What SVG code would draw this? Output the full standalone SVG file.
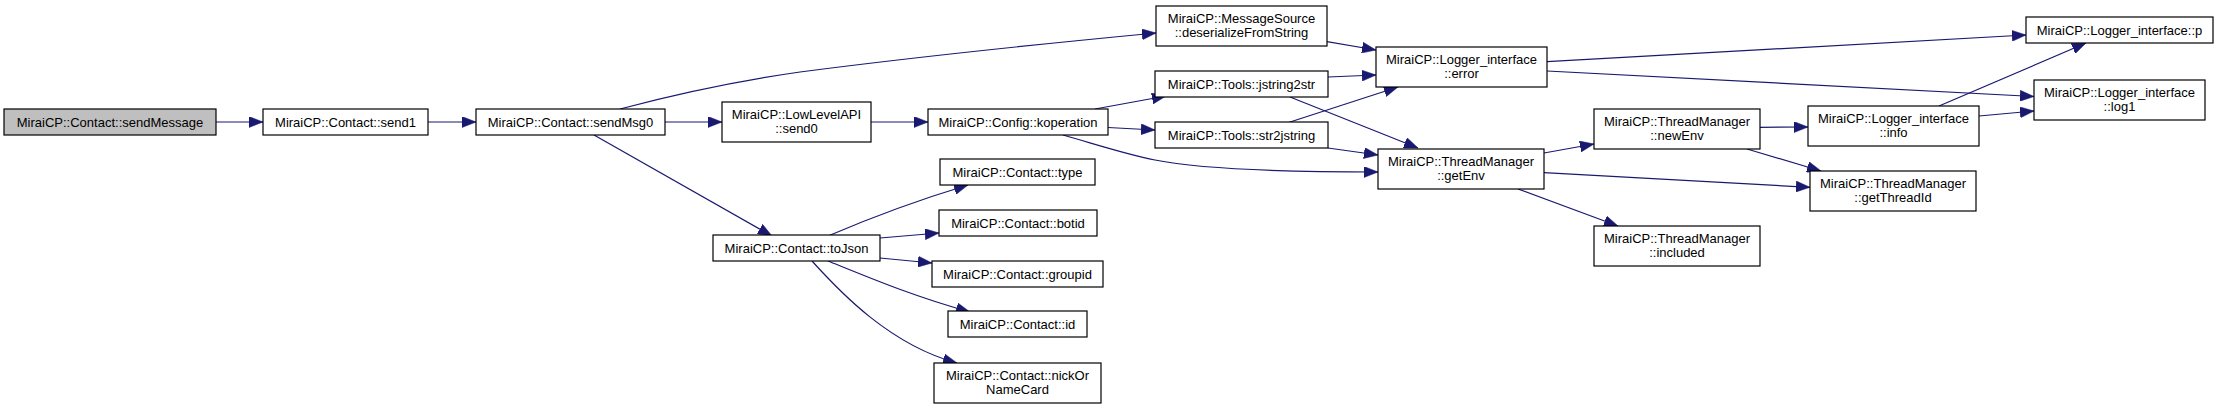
<svg xmlns="http://www.w3.org/2000/svg" width="2219" height="409" viewBox="0 0 2219 409">
<style>
.n rect{fill:#ffffff;stroke:#000000;stroke-width:1.2}
.root rect{fill:#bfbfbf}
text{font-family:"Liberation Sans",Arial,Helvetica,sans-serif;font-size:13px;fill:#000000;text-anchor:middle}
.e path{fill:none;stroke:#191970;stroke-width:1.2;marker-end:url(#arr)}
</style>
<defs>
<marker id="arr" markerUnits="userSpaceOnUse" markerWidth="14" markerHeight="11" refX="14" refY="5.5" orient="auto">
<path d="M0,0 L14,5.5 L0,11 z" fill="#191970" stroke="#191970" stroke-width="0.5"/>
</marker>
</defs>
<rect width="2219" height="409" fill="#ffffff"/>
<g id="connectors" class="e">
<path d="M216,122 L263,122"/>
<path d="M428,122 L476,122"/>
<path d="M665,122 L722,122"/>
<path d="M871,122 L928,122"/>
<path d="M620,109 C680,93 730,82 800,72 C900,59 1030,45 1156,33"/>
<path d="M594,135 L772,236"/>
<path d="M1095,109 L1166,96"/>
<path d="M1108,127.5 L1155,130"/>
<path d="M1063,135 C1095,144 1125,154 1155,160 C1200,169 1290,172 1378,172"/>
<path d="M1327,41.7 L1376,50"/>
<path d="M1328,77 L1376,75"/>
<path d="M1290,97 L1418,148"/>
<path d="M1287,123 L1398,87"/>
<path d="M1328,148 L1378,155"/>
<path d="M1547,61.7 L2026,35"/>
<path d="M1547,71 L2034,96.5"/>
<path d="M1544,153 L1594,144"/>
<path d="M1544,172.7 L1810,187.3"/>
<path d="M1518,189 L1618,226"/>
<path d="M1760,127.3 L1808,127"/>
<path d="M1747,149 L1821,171"/>
<path d="M1939,106 L2086,43"/>
<path d="M1979,116 L2034,111"/>
<path d="M828,236 C870,218 915,201 968,185"/>
<path d="M880,238 L939,233"/>
<path d="M880,258 L932,263"/>
<path d="M828,261 C870,278 915,297 970,312"/>
<path d="M812,261 C840,292 890,345 957,363"/>
</g>
<g id="sendMessage" class="n root"><rect x="4" y="109" width="212" height="26"/><text x="110" y="126.5">MiraiCP::Contact::sendMessage</text></g>
<g id="send1" class="n"><rect x="263" y="109" width="165" height="26"/><text x="345.5" y="126.5">MiraiCP::Contact::send1</text></g>
<g id="sendMsg0" class="n"><rect x="476" y="109" width="189" height="26"/><text x="570.5" y="126.5">MiraiCP::Contact::sendMsg0</text></g>
<g id="send0" class="n"><rect x="722" y="102" width="149" height="40"/><text x="796.5" y="118.5">MiraiCP::LowLevelAPI</text><text x="796.5" y="133">::send0</text></g>
<g id="koperation" class="n"><rect x="928" y="109" width="180" height="26"/><text x="1018" y="126.5">MiraiCP::Config::koperation</text></g>
<g id="deserializeFromString" class="n"><rect x="1156" y="6" width="171" height="40"/><text x="1241.5" y="22.5">MiraiCP::MessageSource</text><text x="1241.5" y="37">::deserializeFromString</text></g>
<g id="jstring2str" class="n"><rect x="1155" y="71" width="173" height="26"/><text x="1241.5" y="88.5">MiraiCP::Tools::jstring2str</text></g>
<g id="str2jstring" class="n"><rect x="1155" y="122" width="173" height="26"/><text x="1241.5" y="139.5">MiraiCP::Tools::str2jstring</text></g>
<g id="type" class="n"><rect x="940" y="159" width="155" height="26"/><text x="1017.5" y="176.5">MiraiCP::Contact::type</text></g>
<g id="botid" class="n"><rect x="939" y="210" width="158" height="26"/><text x="1018" y="227.5">MiraiCP::Contact::botid</text></g>
<g id="groupid" class="n"><rect x="932" y="261" width="171" height="26"/><text x="1017.5" y="278.5">MiraiCP::Contact::groupid</text></g>
<g id="id" class="n"><rect x="948" y="311" width="139" height="26"/><text x="1017.5" y="328.5">MiraiCP::Contact::id</text></g>
<g id="nickOrNameCard" class="n"><rect x="934" y="363" width="167" height="40"/><text x="1017.5" y="379.5">MiraiCP::Contact::nickOr</text><text x="1017.5" y="394">NameCard</text></g>
<g id="toJson" class="n"><rect x="713" y="235" width="167" height="26"/><text x="796.5" y="252.5">MiraiCP::Contact::toJson</text></g>
<g id="error" class="n"><rect x="1376" y="47" width="171" height="40"/><text x="1461.5" y="63.5">MiraiCP::Logger_interface</text><text x="1461.5" y="78">::error</text></g>
<g id="getEnv" class="n"><rect x="1378" y="149" width="166" height="40"/><text x="1461" y="165.5">MiraiCP::ThreadManager</text><text x="1461" y="180">::getEnv</text></g>
<g id="newEnv" class="n"><rect x="1594" y="109" width="166" height="40"/><text x="1677" y="125.5">MiraiCP::ThreadManager</text><text x="1677" y="140">::newEnv</text></g>
<g id="included" class="n"><rect x="1594" y="226" width="166" height="40"/><text x="1677" y="242.5">MiraiCP::ThreadManager</text><text x="1677" y="257">::included</text></g>
<g id="info" class="n"><rect x="1808" y="106" width="171" height="40"/><text x="1893.5" y="122.5">MiraiCP::Logger_interface</text><text x="1893.5" y="137">::info</text></g>
<g id="getThreadId" class="n"><rect x="1810" y="171" width="166" height="40"/><text x="1893" y="187.5">MiraiCP::ThreadManager</text><text x="1893" y="202">::getThreadId</text></g>
<g id="p" class="n"><rect x="2026" y="17" width="187" height="26"/><text x="2119.5" y="34.5">MiraiCP::Logger_interface::p</text></g>
<g id="log1" class="n"><rect x="2034" y="80" width="171" height="40"/><text x="2119.5" y="96.5">MiraiCP::Logger_interface</text><text x="2119.5" y="111">::log1</text></g>
</svg>
